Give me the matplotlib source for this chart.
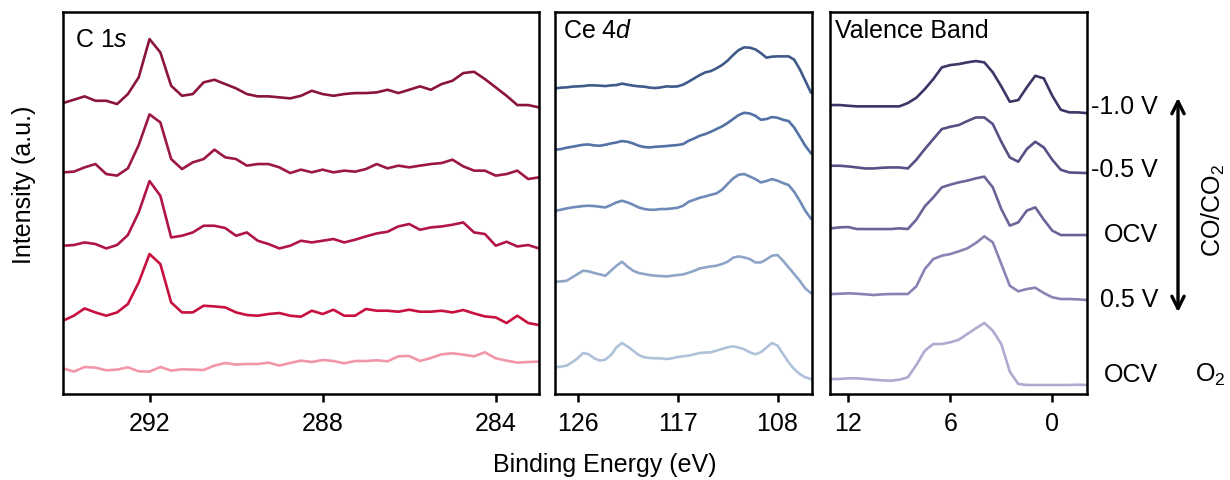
import numpy as np
import matplotlib.pyplot as plt
from matplotlib.patches import FancyArrowPatch

plt.rcParams['font.family'] = ['Liberation Sans', 'DejaVu Sans']
plt.rcParams['mathtext.fontset'] = 'custom'
plt.rcParams['mathtext.rm'] = 'Liberation Sans'
plt.rcParams['mathtext.it'] = 'Liberation Sans:italic'

# ---- C 1s (top to bottom: -1.0 V, -0.5 V, OCV, 0.5 V, OCV in O2)
c1s_energy = np.linspace(294, 283, 45)
c1s_m10 = [0, 3.3, 6.7, 2.3, 2.3, -1, 9, 25.7, 64, 50.7, 17.3, 7.3, 9, 20.7, 23.3,
           19, 14.7, 9, 6.7, 6.7, 5.7, 4.7, 7.3, 12.3, 9, 7.3, 9, 10, 10, 10.7,
           13.3, 10, 13.3, 16.7, 13.3, 19, 22.3, 30, 31.3, 24, 15.7, 7.3, -2, -2, -4.3]
c1s_m05 = [0, 0.7, 5, 8.3, -1.7, -3.3, 4, 27.3, 58, 50, 13.3, 3.3, 10, 13.3, 22.7,
           15, 13.3, 6.7, 8.3, 8.3, 5, -0.7, 2.7, 0, 2.7, 0, 1.7, 0.7, 3.3, 8.3,
           4, 6.7, 5, 6.7, 8.3, 9.3, 12.7, 6, 1.7, 1.7, -3.3, -1.7, 1.7, -6.7, -5]
c1s_ocv = [0, 0.7, 3.3, 1.7, -2.7, 0.7, 10.7, 33.3, 64.7, 50, 8.3, 10, 13.3, 20, 20,
           17.7, 10, 13.3, 5, 1.7, -2.7, 0, 5, 3.3, 5, 6.7, 3.3, 6, 9.3, 12.3,
           14, 19.3, 21.7, 16, 18.3, 19.3, 21, 23.3, 13.3, 11.7, 0, 4, -0.7, 0.7, -2.7]
c1s_p05 = [0, 5, 12.3, 8.3, 5, 8.3, 16.7, 38.3, 66.7, 56.7, 18.3, 8.3, 8.3, 15, 14.3,
           13.3, 8.3, 5.7, 5, 6.7, 7.7, 5, 4, 10, 6.7, 11, 5, 5, 11.7, 10,
           10, 9, 11, 9, 9, 10, 8.3, 10.7, 7.3, 4.3, 3.3, -2.3, 5, -2.3, -4.3]
c1s_o2 = [0, -3.3, 1.3, 0.7, -2, -1.3, 1, -3, -3.3, 1.3, -2.3, -1, -1.3, -1.7, 2.7,
          5.3, 3.7, 4.3, 4.3, 5.7, 2.7, 5.3, 7.7, 6.3, 8.3, 7.3, 5, 7.3, 7.3, 8,
          7, 12, 12.3, 7.3, 10.3, 14, 15, 13.7, 12, 16, 10, 7.7, 5.7, 6.3, 6.7]
c1s_spectra = [c1s_m10, c1s_m05, c1s_ocv, c1s_p05, c1s_o2]
c1s_offsets = [291, 221.7, 148.3, 73.3, 25.7]
c1s_colors = ["#8a1538", "#9c1840", "#b01545", "#c8103f", "#f297aa"]

# ---- Ce 4d
ce_energy = np.linspace(128, 105, 47)
ce_m10 = [0, 0.7, 1, 1.7, 2, 2.3, 3, 3, 2.7, 2.3, 3, 3.3, 4.7, 3.7, 2.7, 2, 1.7,
          0.7, 0.3, 1, 2, 1.7, 2, 3.7, 6.7, 10, 13.3, 16, 17.3, 20, 23.3, 27.7,
          33.3, 38.3, 41, 40.7, 39, 35.3, 30.7, 31.7, 32, 32, 32, 28.7, 19.3, 7.7, -4]
ce_m05 = [0, 0.7, 2, 3, 4, 5, 5.3, 4.3, 4, 5, 6.3, 7.3, 8.7, 8, 6.3, 4, 2.7,
          2.3, 3, 3.3, 3.7, 4.3, 4.7, 5.7, 9, 11.3, 14, 15.7, 18, 20.7, 23.3, 26.7,
          30.7, 34.7, 37, 36.3, 34, 30, 30.7, 32.7, 32, 30, 28.7, 22.3, 13.3, 4, -3.3]
ce_ocv = [0, 1, 2.3, 3.3, 4, 4.7, 5, 4.7, 4, 3.3, 5.7, 8.3, 10, 8.3, 6, 3.3, 1.7,
          1, 1, 1.7, 1.7, 2.3, 3, 5, 9, 11, 13, 14.3, 16, 17.3, 21, 26.7,
          32.3, 36, 36.7, 34.3, 31.7, 28.3, 29.7, 31.7, 30, 27.7, 25.7, 19, 10, 0, -7.7]
ce_p05 = [0, 0.3, 1, 4.3, 7.7, 11, 10.3, 8.7, 7.3, 6, 11, 16, 20, 15, 11, 8.7, 7.7,
          6.7, 6, 5.7, 5.3, 6, 6.7, 7.3, 9, 11, 13.3, 14.3, 15.3, 16, 17.7, 20,
          24, 25.3, 24.3, 22.7, 19.3, 19.3, 22.3, 26, 26.7, 21, 14.3, 7.7, 1, -6.7, -11.3]
ce_o2 = [0, 0.7, 1.7, 5, 9, 14.3, 13, 9, 6.7, 7.7, 12.3, 20, 24.3, 20.7, 16.7, 12.3, 10,
         9.3, 9, 9, 8.3, 9, 10.3, 11, 11.7, 13, 14.3, 14.7, 15, 16.7, 18.3, 20,
         21, 19.7, 18, 15, 13, 15, 19.7, 24.3, 21.7, 13.3, 5, -1.7, -6.7, -10, -11.7]
ce_spectra = [ce_m10, ce_m05, ce_ocv, ce_p05, ce_o2]
ce_offsets = [305.7, 244.3, 183.3, 112.3, 26.7]
ce_colors = ["#3f5a8a", "#5271a5", "#6f8ab8", "#8fa5c8", "#b0c1da"]

# ---- Valence band
vb_energy = np.linspace(13, -2, 31)
vb_m10 = [0, 0, -0.7, -1.3, -1.3, -1.3, -1.3, -1.3, -1.3, 2, 7.3, 16, 26, 37.7, 40, 41,
          42.7, 44, 42.7, 32.7, 18.7, 3.3, 5, 17.7, 29.3, 26.7, 9.3, -4.7, -7.3, -7.3, -8]
vb_m05 = [0, 0, -0.7, -1.7, -2.7, -2.7, -2, -1.7, -1.7, -2.7, 6, 16.7, 26.7, 36.7, 39, 40.7,
          44.7, 48.3, 48.3, 41.7, 24, 8.3, 4, 16.7, 24, 18.3, 6, -4, -6.7, -7, -7.3]
vb_ocv = [0, 1, 1.3, -0.7, -0.7, -0.7, -0.7, -0.7, 0, -0.7, 8.7, 22, 31, 41, 43.7, 46,
          47.7, 50, 51.7, 41, 19.3, 2.7, 6, 17.7, 21, 8.7, -2.3, -6.7, -6.7, -6.7, -6.7]
vb_p05 = [0, 0.3, 0.7, 0.3, -0.3, -1, -0.3, 0, 0, 0, 7.7, 25, 35, 38.3, 40, 42.7,
          45.7, 51, 57.7, 51.7, 30, 8.3, 2.7, 5, 6.3, 1, -3.3, -5, -5, -5.3, -6]
vb_o2 = [0, 0, 0.7, 0.7, 0, -0.7, -1.3, -1.7, -0.7, 1.7, 14, 28.3, 35, 35, 36.7, 39.3,
         45, 50.7, 56, 48.3, 35, 7.3, -5, -6, -6, -6, -6, -6, -6, -5.7, -6]
vb_spectra = [vb_m10, vb_m05, vb_ocv, vb_p05, vb_o2]
vb_offsets = [289, 228.3, 165.7, 100, 15]
vb_colors = ["#3f3466", "#5a4e85", "#6f6298", "#8d80b3", "#b2a8d0"]

conditions = ["-1.0 V", "-0.5 V", "OCV", "0.5 V", "OCV"]

fig = plt.figure(figsize=(12.3, 4.81), dpi=100)

panels = [
    ([0.0512, 0.1788, 0.387, 0.794], c1s_energy, c1s_spectra, c1s_offsets, c1s_colors,
     (294, 283), [292, 288, 284], "C 1$\\it{s}$", (0.026, 0.929)),
    ([0.4512, 0.1788, 0.2089, 0.794], ce_energy, ce_spectra, ce_offsets, ce_colors,
     (128.04, 104.9), [126, 117, 108], "Ce 4$\\it{d}$", (0.03, 0.953)),
    ([0.6748, 0.1788, 0.2089, 0.794], vb_energy, vb_spectra, vb_offsets, vb_colors,
     (13.08, -2.04), [12, 6, 0], "Valence Band", (0.02, 0.953)),
]

for rect, energy, spectra, offsets, colors, xlim, ticks, title, tpos in panels:
    ax = fig.add_axes(rect)
    for spec, off, col in zip(spectra, offsets, colors):
        ax.plot(energy, np.array(spec) + off, color=col, lw=1.9)
    ax.set_xlim(*xlim)
    ax.set_ylim(0, 382)
    ax.set_xticks(ticks)
    ax.set_yticks([])
    ax.tick_params(axis='x', direction='out', length=6, width=1.8, labelsize=18, pad=6)
    for s in ax.spines.values():
        s.set_linewidth(1.8)
    ax.text(tpos[0], tpos[1], title, transform=ax.transAxes, fontsize=18,
            ha='left', va='center')

# condition labels on the right
label_y = [107, 170, 235, 300, 375]
for lab, y in zip(conditions, label_y):
    fig.text(1158 / 1230, 1 - y / 481, lab, fontsize=18, ha='right', va='center')
fig.text(1210 / 1230, 1 - 375 / 481, "O$_2$", fontsize=18, ha='center', va='center')
fig.text(1213 / 1230, 1 - 210 / 481, "CO/CO$_2$", fontsize=18, ha='center', va='center',
         rotation=90)
fig.patches.append(FancyArrowPatch(
    (1178 / 1230, 1 - 96 / 481), (1178 / 1230, 1 - 316 / 481),
    transform=fig.transFigure, arrowstyle='<->', mutation_scale=22, lw=2.4, color='black'))

fig.text(24 / 1230, 1 - 185 / 481, "Intensity (a.u.)", fontsize=18, rotation=90,
         ha='center', va='center')
fig.text(605 / 1230, 1 - 465 / 481, "Binding Energy (eV)", fontsize=18,
         ha='center', va='center')

fig.savefig("out.png", dpi=100)
